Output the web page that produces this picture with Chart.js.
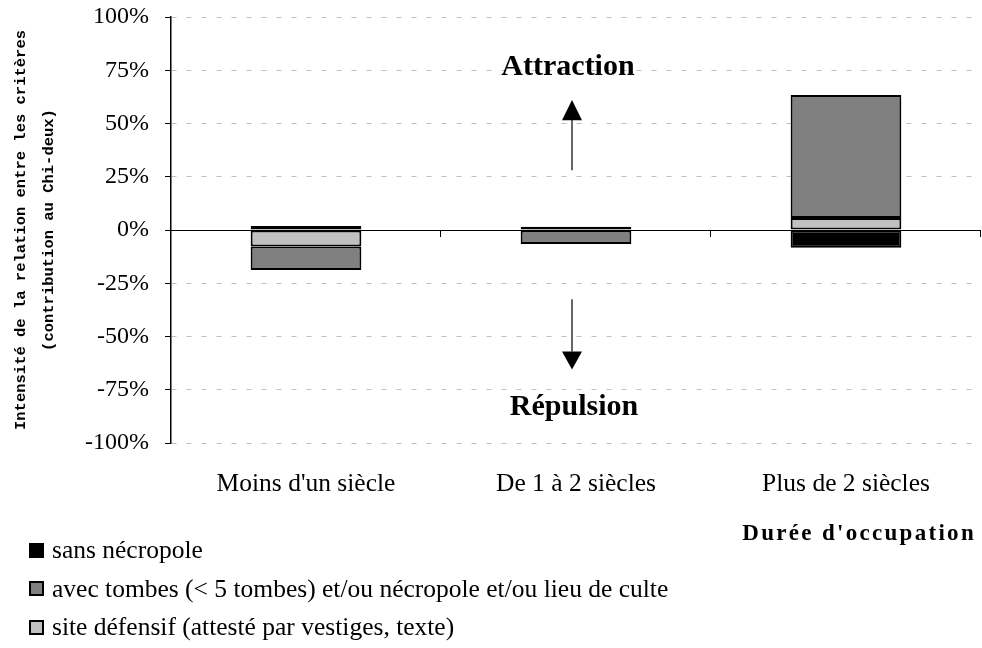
<!DOCTYPE html>
<html>
<head>
<meta charset="utf-8">
<script src="https://cdn.jsdelivr.net/npm/chart.js"></script>
<style>
  body { margin: 0; background: #fff; }
  #wrap { position: relative; width: 982px; height: 648px; }
  #legend { position: absolute; left: 29px; top: 531px; font-family: 'Liberation Serif', 'Times New Roman', serif; font-size: 25.5px; color: #000; }
  #legend div { height: 38.5px; display: flex; align-items: center; }
  #legend span.box { display: inline-block; width: 11px; height: 11px; border: 2px solid #000; margin-right: 8px; }
</style>
</head>
<body>
<div id="wrap">
  <canvas id="chart" width="982" height="648"></canvas>
  <div id="legend"></div>
</div>
<script type="text/javascript">

// categories (durée d'occupation)
const categories = ["Moins d'un siècle", "De 1 à 2 siècles", "Plus de 2 siècles"];

// contribution au Chi-deux, in %
const sansNecropole = [1.9, 0, -8.3];
const avecTombes = [-11, -6.6, 57.8];
const siteDefensif = [-7.8, 1.5, 5.6];

const seriesNames = [
    "sans nécropole",
    "avec tombes (< 5 tombes) et/ou nécropole et/ou lieu de culte",
    "site défensif (attesté par vestiges, texte)"
];
const seriesColors = ['#000000', '#808080', '#c0c0c0'];

const yTitle = ["Intensité de la relation entre les critères", "(contribution au Chi-deux)"];
const xTitle = "Durée d'occupation";

const serif = "'Liberation Serif', 'Times New Roman', serif";

// arrows, labels, zero line and category ticks
const extras = {
    id: 'extras',
    beforeDatasetsDraw(chart) {
        const ctx = chart.ctx;
        const y = chart.scales.y;
        const x = chart.scales.x;
        const y0 = y.getPixelForValue(0);
        ctx.save();
        ctx.strokeStyle = '#000';
        ctx.lineWidth = 1;
        ctx.beginPath();
        ctx.moveTo(chart.chartArea.left, y0 + 0.5);
        ctx.lineTo(chart.chartArea.right, y0 + 0.5);
        const n = categories.length;
        const w = (x.right - x.left) / n;
        for (let i = 1; i <= n; i++) {
            const px = Math.round(x.left + i * w) - 0.5;
            ctx.moveTo(px, y0);
            ctx.lineTo(px, y0 + 7);
        }
        ctx.stroke();
        ctx.restore();
    },
    afterDraw(chart) {
        const ctx = chart.ctx;
        const y = chart.scales.y;
        const x = chart.scales.x;
        const cx = x.getPixelForValue(1) - 4;
        ctx.save();
        ctx.fillStyle = '#000';
        ctx.strokeStyle = '#000';
        ctx.lineWidth = 1.2;
        // up arrow
        ctx.beginPath();
        ctx.moveTo(cx, y.getPixelForValue(28));
        ctx.lineTo(cx, y.getPixelForValue(52));
        ctx.stroke();
        ctx.beginPath();
        ctx.moveTo(cx, y.getPixelForValue(61));
        ctx.lineTo(cx - 10, y.getPixelForValue(51.5));
        ctx.lineTo(cx + 10, y.getPixelForValue(51.5));
        ctx.closePath();
        ctx.fill();
        // down arrow
        ctx.beginPath();
        ctx.moveTo(cx, y.getPixelForValue(-32.5));
        ctx.lineTo(cx, y.getPixelForValue(-57));
        ctx.stroke();
        ctx.beginPath();
        ctx.moveTo(cx, y.getPixelForValue(-65.5));
        ctx.lineTo(cx - 10, y.getPixelForValue(-57));
        ctx.lineTo(cx + 10, y.getPixelForValue(-57));
        ctx.closePath();
        ctx.fill();

        ctx.font = 'bold 30px ' + serif;
        ctx.textAlign = 'center';
        ctx.textBaseline = 'alphabetic';
        ctx.fillText('Attraction', cx - 4, 75);
        ctx.fillText('Répulsion', cx + 2, 415);

        ctx.font = 'bold 23px ' + serif;
        ctx.letterSpacing = '2.3px';
        ctx.textAlign = 'right';
        ctx.fillText(xTitle, 976, 540);
        ctx.restore();
    }
};

const datasets = [
    { label: seriesNames[2], data: siteDefensif, backgroundColor: seriesColors[2] },
    { label: seriesNames[1], data: avecTombes, backgroundColor: seriesColors[1] },
    { label: seriesNames[0], data: sansNecropole, backgroundColor: seriesColors[0] }
].map(d => Object.assign(d, {
    borderColor: '#000',
    borderWidth: 2,
    borderSkipped: false,
    barPercentage: 0.41,
    categoryPercentage: 1
}));

const ctx = document.getElementById('chart').getContext('2d');
new Chart(ctx, {
    type: 'bar',
    data: { labels: categories, datasets: datasets },
    options: {
        responsive: false,
        animation: false,
        layout: { padding: { top: 17, right: 1, left: 0, bottom: 0 } },
        plugins: { legend: { display: false }, tooltip: { enabled: false } },
        scales: {
            x: {
                stacked: true,
                grid: { display: false },
                border: { display: false },
                ticks: { color: '#000', font: { family: serif, size: 25.5 }, padding: 18, maxRotation: 0 },
                afterFit(s) { s.height = 205; }
            },
            y: {
                stacked: true,
                min: -100,
                max: 100,
                ticks: {
                    stepSize: 25,
                    color: '#000',
                    font: { family: serif, size: 24 },
                    padding: 16,
                    callback: v => v + '%'
                },
                grid: {
                    color: c => c.tick && c.tick.value === 0 ? 'rgba(0,0,0,0)' : '#c0c0c0',
                    lineWidth: 1,
                    tickColor: '#000',
                    tickLength: 6,
                    tickBorderDash: []
                },
                border: { display: true, color: '#000', width: 1.5, dash: [5, 10] },
                title: {
                    display: true,
                    text: yTitle,
                    color: '#000',
                    font: { family: "'Liberation Mono', monospace", size: 15.5, weight: 'bold', lineHeight: 1.8 },
                    padding: { top: 7, bottom: 0 }
                },
                afterFit(s) {
                    s.width = 171;
                    s.paddingTop = 0;
                    s.paddingBottom = 0;
                }
            }
        }
    },
    plugins: [extras]
});

// legend, black first as in the original
const legend = document.getElementById('legend');
[0, 1, 2].forEach(i => {
    const row = document.createElement('div');
    const box = document.createElement('span');
    box.className = 'box';
    box.style.background = seriesColors[i];
    row.appendChild(box);
    row.appendChild(document.createTextNode(seriesNames[i]));
    legend.appendChild(row);
});
</script>
</body>
</html>
